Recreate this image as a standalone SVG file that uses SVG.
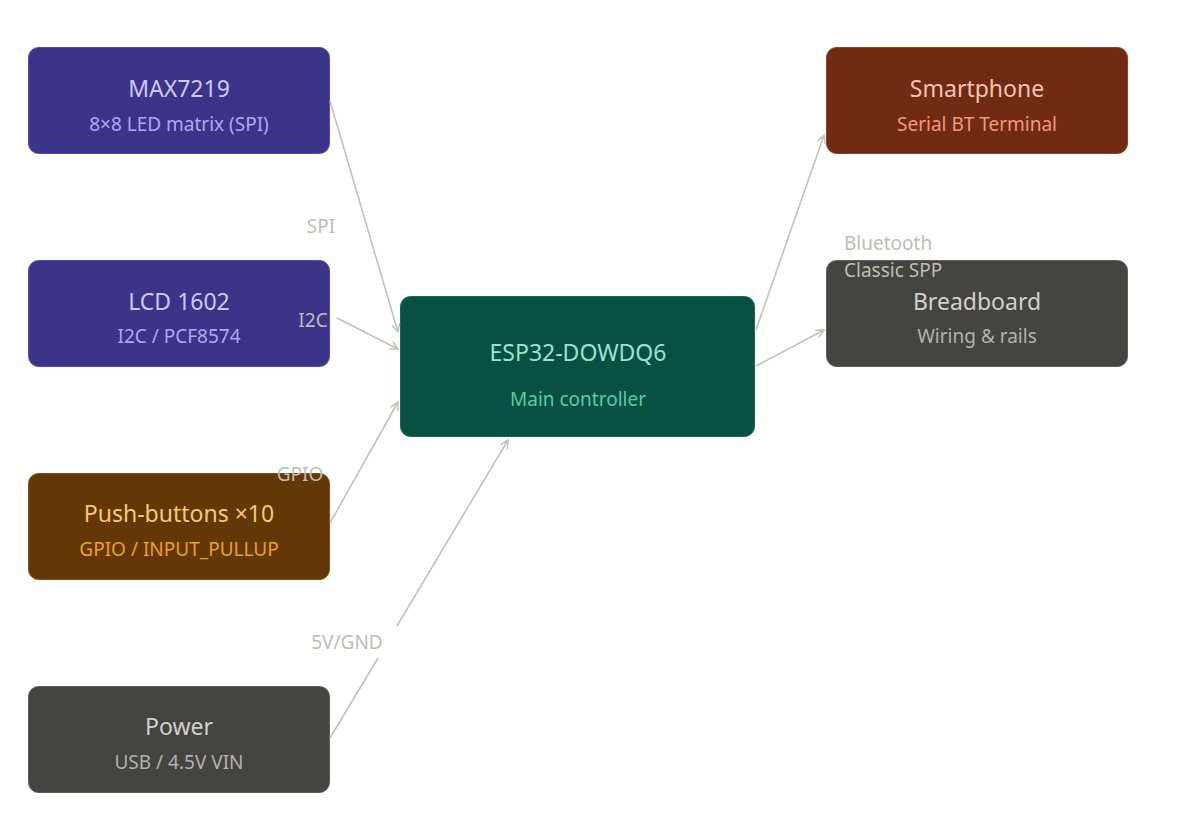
<svg xmlns="http://www.w3.org/2000/svg" width="1186" height="832" viewBox="0 0 1186 832">
<style>
text{font-family:"Noto Sans",sans-serif;text-anchor:middle}
.t{font-size:23px}.s{font-size:19px}
.e{fill:none;stroke:#c4c2b8;stroke-width:1.6;marker-end:url(#a)}
.g{fill:none;stroke:#c4c2b8;stroke-width:1.6}
.l{font-size:19px;fill:#bfbdb3}
</style>
<defs><marker id="a" viewBox="0 0 10 10" refX="9" refY="5" markerWidth="10" markerHeight="10" markerUnits="userSpaceOnUse" orient="auto"><path d="M1,1 L9,5 L1,9" fill="none" stroke="#c4c2b8" stroke-width="1.5"/></marker></defs>
<rect width="1186" height="832" fill="#fff"/>
<g id="max7219"><rect x="28.5" y="47.5" width="301" height="106" rx="10" fill="#3c3489" stroke="#534ab7"/><text x="179" y="97" class="t" fill="#cecbf6">MAX7219</text><text x="179" y="131" class="s" fill="#afa9ec">8×8 LED matrix (SPI)</text></g>
<g id="lcd"><rect x="28.5" y="260.5" width="301" height="106" rx="10" fill="#3c3489" stroke="#534ab7"/><text x="179" y="310" class="t" fill="#cecbf6">LCD 1602</text><text x="179" y="343" class="s" fill="#afa9ec">I2C / PCF8574</text></g>
<g id="buttons"><rect x="28.5" y="473.5" width="301" height="106" rx="10" fill="#633806" stroke="#854f0b"/><text x="179" y="522" class="t" fill="#fac775">Push-buttons ×10</text><text x="179" y="556" class="s" fill="#ef9f27">GPIO / INPUT_PULLUP</text></g>
<g id="power"><rect x="28.5" y="686.5" width="301" height="106" rx="10" fill="#444441" stroke="#5f5e5a"/><text x="179" y="735" class="t" fill="#d3d1c7">Power</text><text x="179" y="769" class="s" fill="#b4b2a9">USB / 4.5V VIN</text></g>
<g id="esp32"><rect x="400.5" y="296.5" width="354" height="140" rx="10" fill="#085041" stroke="#0f6e56"/><text x="578" y="361" class="t" fill="#9fe1cb">ESP32-DOWDQ6</text><text x="578" y="406" class="s" fill="#5dcaa5">Main controller</text></g>
<g id="smartphone"><rect x="826.5" y="47.5" width="301" height="106" rx="10" fill="#712b13" stroke="#993c1d"/><text x="977" y="97" class="t" fill="#f5c4b3">Smartphone</text><text x="977" y="131" class="s" fill="#f0997b">Serial BT Terminal</text></g>
<g id="breadboard"><rect x="826.5" y="260.5" width="301" height="106" rx="10" fill="#444441" stroke="#5f5e5a"/><text x="977" y="310" class="t" fill="#d3d1c7">Breadboard</text><text x="977" y="343" class="s" fill="#b4b2a9">Wiring &amp; rails</text></g>
<g id="connectors">
<path class="e" d="M330,101 L398,332"/>
<path class="e" d="M337,318 L398,349"/>
<path class="e" d="M330,523 L398,402"/>
<path class="g" d="M330,738 L378,658"/>
<path class="e" d="M397,626 L508,440"/>
<path class="e" d="M756,330 L824,135"/>
<path class="e" d="M756,366 L824,330"/>
<text x="321" y="233" class="l">SPI</text>
<text x="313" y="327" class="l">I2C</text>
<text x="300" y="481" class="l">GPIO</text>
<text x="347" y="649" class="l">5V/GND</text>
<text x="844" y="250" class="l" style="text-anchor:start">Bluetooth</text>
<text x="844" y="277" class="l" style="text-anchor:start">Classic SPP</text>
</g>
</svg>
